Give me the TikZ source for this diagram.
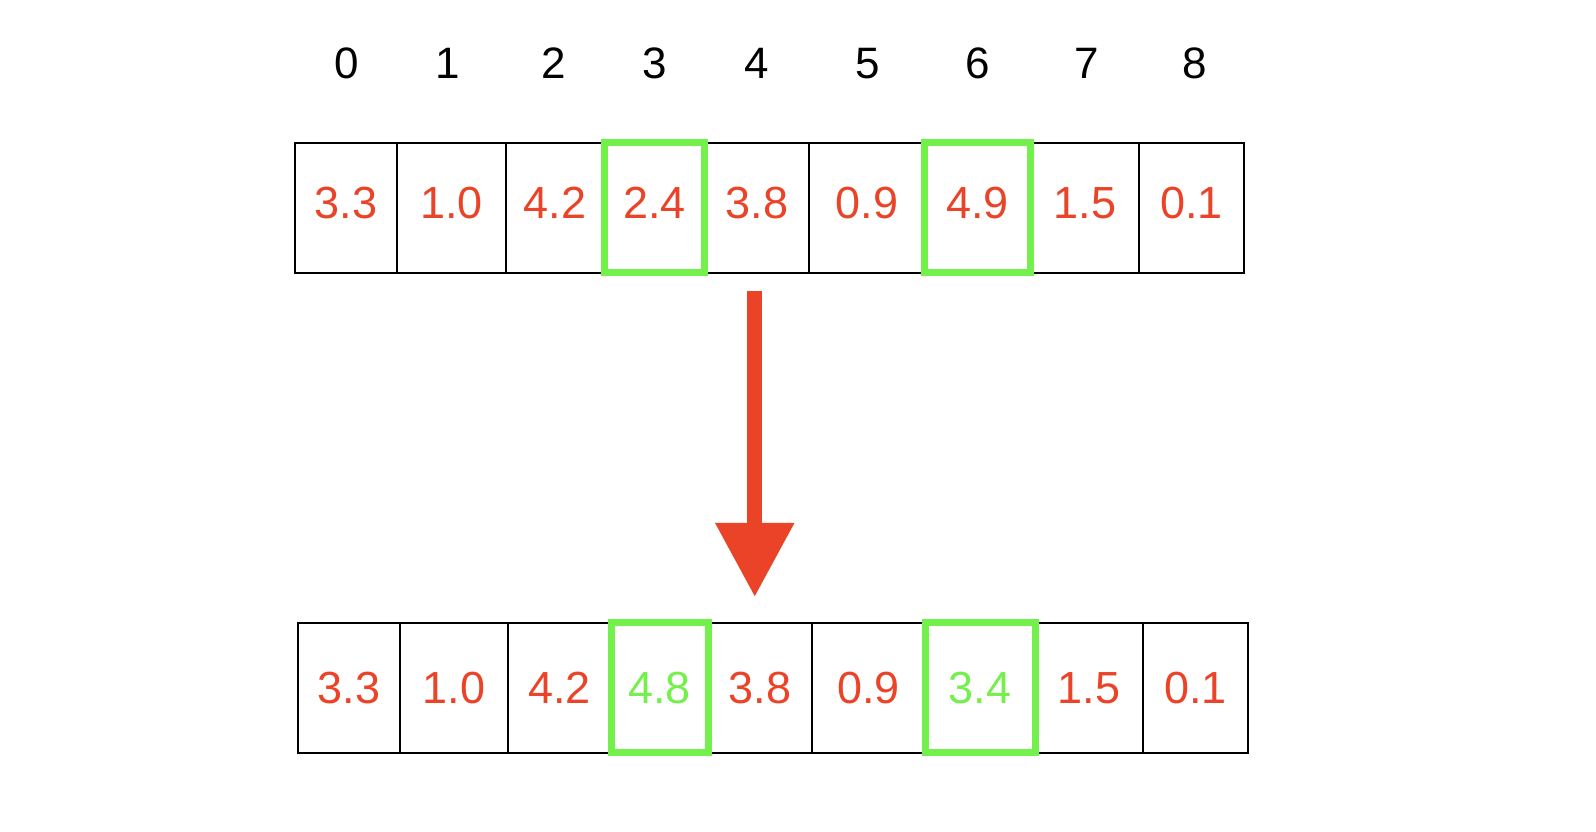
\documentclass[tikz,border=0pt]{standalone}
\usepackage{fontspec}
\setmainfont{Liberation Sans}
\usepackage{tikz}
\usetikzlibrary{arrows.meta,positioning}
\definecolor{qred}{RGB}{234,67,39}
\definecolor{qgreen}{RGB}{116,240,76}

\begin{document}
\begin{tikzpicture}[x=1pt,y=1pt,
  cell/.style={draw=black,line width=2pt,minimum height=130pt,inner sep=0pt,outer sep=0pt,text=qred,font=\fontsize{45}{50}\selectfont},
  up/.style={text depth=10pt},
  idx/.style={inner sep=0pt,font=\fontsize{44}{50}\selectfont},
  sel/.style={draw=qgreen,line width=7pt},
  arr/.style={-{Triangle[length=74pt,width=75pt]},line width=15pt,qred}]
\useasboundingbox (0,0) rectangle (1596,832);
% array before
\node[cell,up,minimum width=102pt] (t0) at (346,624) {3.3};
\node[cell,up,minimum width=109pt,right=0pt of t0] (t1) {1.0};
\node[cell,up,minimum width=98.5pt,right=0pt of t1] (t2) {4.2};
\node[cell,up,minimum width=100pt,right=0pt of t2] (t3) {2.4};
\node[cell,up,minimum width=104.5pt,right=0pt of t3] (t4) {3.8};
\node[cell,up,minimum width=115.5pt,right=0pt of t4] (t5) {0.9};
\node[cell,up,minimum width=106pt,right=0pt of t5] (t6) {4.9};
\node[cell,up,minimum width=108.5pt,right=0pt of t6] (t7) {1.5};
\node[cell,up,minimum width=105pt,right=0pt of t7] (t8) {0.1};
\draw[sel] (t3.south west) rectangle (t3.north east);
\draw[sel] (t6.south west) rectangle (t6.north east);
% indices
\node[idx,above=64pt of t0,xshift=1pt] (i0) {0};
\node[idx,above=64pt of t1,xshift=-4pt] (i1) {1};
\node[idx,above=64pt of t2,xshift=-2pt] (i2) {2};
\node[idx,above=64pt of t3] (i3) {3};
\node[idx,above=64pt of t4] (i4) {4};
\node[idx,above=64pt of t5,xshift=1pt] (i5) {5};
\node[idx,above=64pt of t6] (i6) {6};
\node[idx,above=64pt of t7,xshift=2pt] (i7) {7};
\node[idx,above=64pt of t8,xshift=3pt] (i8) {8};
% array after
\node[cell,minimum width=102pt] (b0) at (349,144) {3.3};
\node[cell,minimum width=108pt,right=0pt of b0] (b1) {1.0};
\node[cell,minimum width=103pt,right=0pt of b1] (b2) {4.2};
\node[cell,minimum width=97pt,right=0pt of b2,text=qgreen] (b3) {4.8};
\node[cell,minimum width=104pt,right=0pt of b3] (b4) {3.8};
\node[cell,minimum width=113pt,right=0pt of b4] (b5) {0.9};
\node[cell,minimum width=110pt,right=0pt of b5,text=qgreen] (b6) {3.4};
\node[cell,minimum width=108pt,right=0pt of b6] (b7) {1.5};
\node[cell,minimum width=105pt,right=0pt of b7] (b8) {0.1};
\draw[sel] (b3.south west) rectangle (b3.north east);
\draw[sel] (b6.south west) rectangle (b6.north east);
\draw[arr,shorten <=18pt,shorten >=26pt] ([xshift=-2pt]t4.south) -- ([xshift=-2pt]t4.south |- b4.north);
\end{tikzpicture}
\end{document}
